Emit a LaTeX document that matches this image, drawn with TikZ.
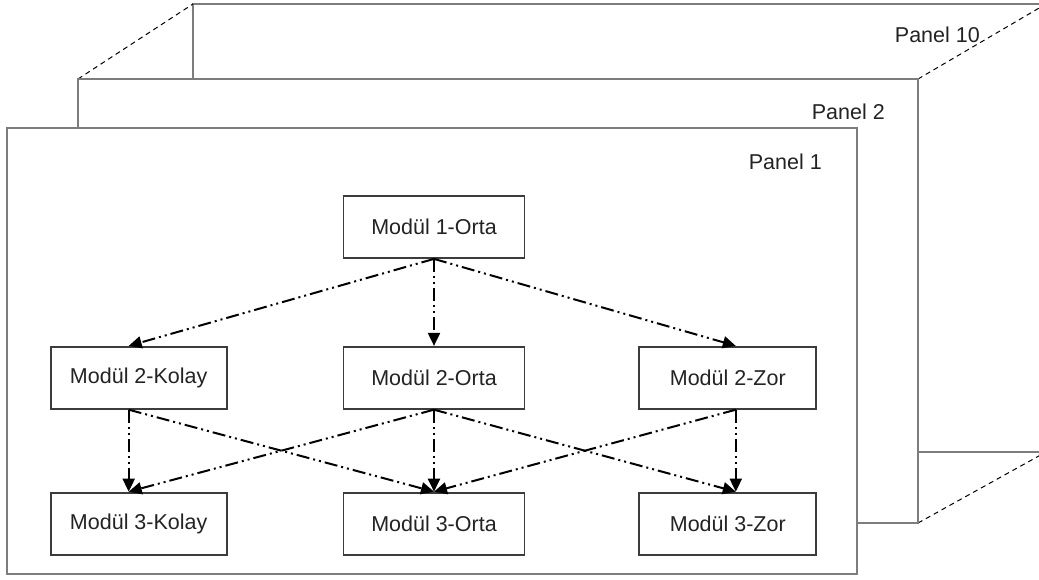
\documentclass[tikz,border=0pt]{standalone}
\usepackage{fontspec}
\setmainfont{Liberation Sans}
\usetikzlibrary{arrows.meta,positioning}
\definecolor{panelgray}{RGB}{125,125,125}
\definecolor{boxgray}{RGB}{60,60,60}
\definecolor{textgray}{RGB}{35,35,35}

\begin{document}
\begin{tikzpicture}[
    x=1pt, y=-1pt,
    panel/.style={draw=panelgray, line width=2.2pt, fill=white},
    persp/.style={draw=black, line width=1pt, dash pattern=on 5pt off 4pt},
    panellabel/.style={anchor=east, inner sep=0pt, text=textgray, font=\fontsize{21.5}{25}\selectfont},
    box/.style={rectangle, draw=boxgray, line width=1.8pt, fill=white, minimum width=181pt, minimum height=62pt, align=center, text=textgray, font=\fontsize{21.5}{25}\selectfont},
    arrow/.style={-{Triangle[length=13pt,width=12pt]}, line width=2pt, dash pattern=on 13pt off 4pt on 2pt off 4pt on 2pt off 4pt}
]
    \useasboundingbox (0,0) rectangle (1039,580);
    \clip (0,0) rectangle (1039,580);

    % panels, back to front
    \draw[panel] (193,4) rectangle (1046,452);
    \draw[persp] (78,79) -- (193,4);
    \draw[persp] (918,79) -- (1046,4);
    \draw[persp] (918,523) -- (1046,452);
    \node[panellabel] (p10) at (980,35) {Panel 10};
    \draw[panel] (78,79) rectangle (918,523);
    \node[panellabel] (p2) at (885,112) {Panel 2};
    \draw[panel] (7,128) rectangle (857,574);
    \node[panellabel] (p1) at (822,162) {Panel 1};

    % modules
    \node[box] (m1) at (434,227) {Modül 1-Orta};
    \node[box, below=87pt of m1] (m2o) {Modül 2-Orta};
    \node[box, minimum width=176pt, left=115pt of m2o] (m2k) {Modül 2-Kolay};
    \node[box, minimum width=177pt, right=113pt of m2o] (m2z) {Modül 2-Zor};
    \node[box, below=82pt of m2o] (m3o) {Modül 3-Orta};
    \node[box, minimum width=176pt, below=82pt of m2k] (m3k) {Modül 3-Kolay};
    \node[box, minimum width=177pt, below=82pt of m2z] (m3z) {Modül 3-Zor};

    \draw[arrow] (m1.south) -- ([xshift=-10pt]m2k.north);
    \draw[arrow] (m1.south) -- (m2o.north);
    \draw[arrow] (m1.south) -- ([xshift=8pt]m2z.north);
    \draw[arrow] ([xshift=-10pt]m2k.south) -- ([xshift=-10pt]m3k.north);
    \draw[arrow] ([xshift=-10pt]m2k.south) -- (m3o.north);
    \draw[arrow] (m2o.south) -- ([xshift=-10pt]m3k.north);
    \draw[arrow] (m2o.south) -- (m3o.north);
    \draw[arrow] (m2o.south) -- ([xshift=8pt]m3z.north);
    \draw[arrow] ([xshift=8pt]m2z.south) -- (m3o.north);
    \draw[arrow] ([xshift=8pt]m2z.south) -- ([xshift=8pt]m3z.north);
\end{tikzpicture}
\end{document}
